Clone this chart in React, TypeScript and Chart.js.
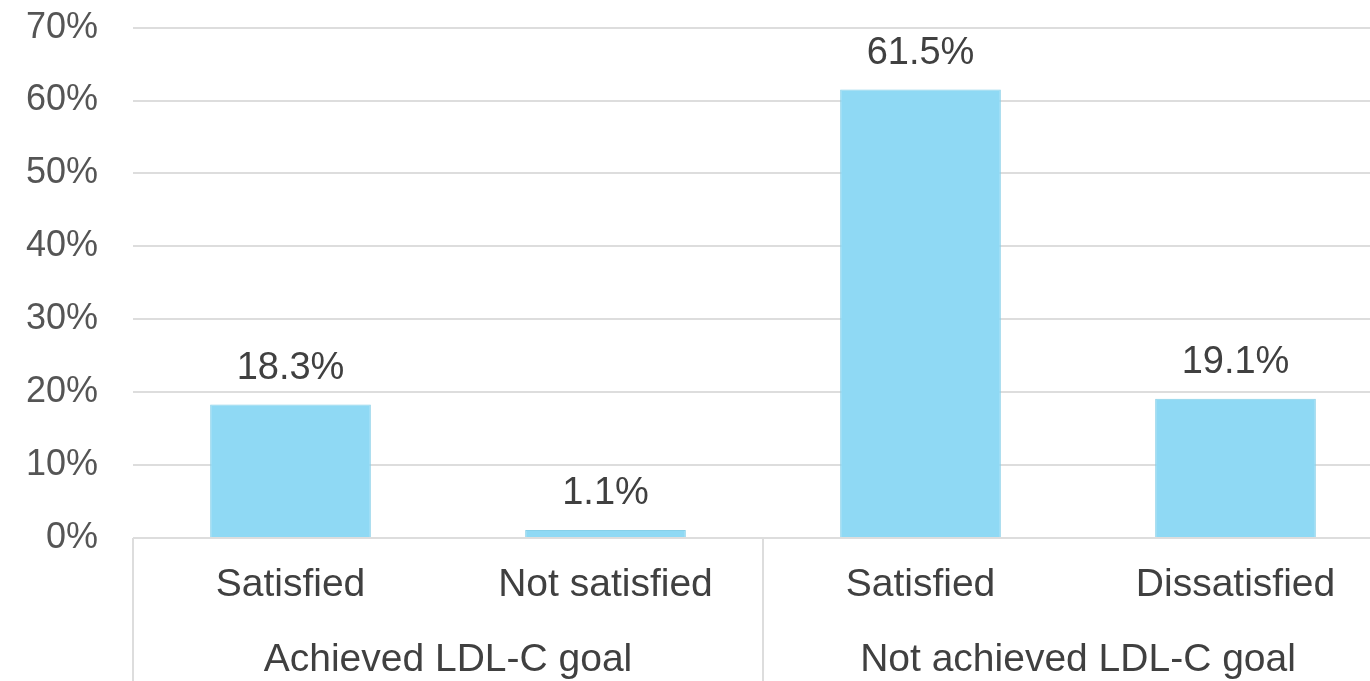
import React, { useEffect, useRef } from "react";
import { Chart, registerables } from "chart.js";

Chart.register(...registerables);

const categories = ["Satisfied", "Not satisfied", "Satisfied", "Dissatisfied"];
const groupLabels = ["Achieved LDL-C goal", "Not achieved LDL-C goal"];
const groupSpans = [[0, 1], [2, 3]];
const values = [18.3, 1.1, 61.5, 19.1];
const yTicks = [0, 10, 20, 30, 40, 50, 60, 70];

const FONT = '"Liberation Sans", Arial, Helvetica, sans-serif';
const TEXT = "#404040";
const GRID = "#dddddd";

const decorPlugin = {
  id: "decor",
  afterDatasetsDraw(chart: any) {
    const ctx = chart.ctx;
    const x = chart.scales.x;
    const area = chart.chartArea;
    const meta = chart.getDatasetMeta(0);
    ctx.save();
    ctx.font = `38px ${FONT}`;
    ctx.fillStyle = TEXT;
    ctx.textAlign = "center";
    ctx.textBaseline = "middle";
    meta.data.forEach((bar: any, i: number) => {
      ctx.fillText(values[i].toFixed(1) + "%", bar.x, bar.y - 36);
    });
    const step = x.getPixelForValue(1) - x.getPixelForValue(0);
    const bounds: number[] = [];
    groupSpans.forEach((s, gi) => {
      if (gi === 0) bounds.push(x.getPixelForValue(s[0]) - step / 2);
      bounds.push(x.getPixelForValue(s[1]) + step / 2);
    });
    ctx.strokeStyle = GRID;
    ctx.lineWidth = 2;
    bounds.forEach((bx) => {
      ctx.beginPath();
      ctx.moveTo(bx, area.bottom);
      ctx.lineTo(bx, chart.height);
      ctx.stroke();
    });
    ctx.font = `39px ${FONT}`;
    ctx.fillStyle = TEXT;
    groupSpans.forEach((s, gi) => {
      const cx = (x.getPixelForValue(s[0]) + x.getPixelForValue(s[1])) / 2;
      ctx.fillText(groupLabels[gi], cx, chart.height - 21);
    });
    ctx.restore();
  },
};

export default function App() {
  const ref = useRef<HTMLCanvasElement>(null);
  useEffect(() => {
    if (!ref.current) return;
    const chart = new Chart(ref.current, {
      type: "bar",
      data: {
        labels: categories,
        datasets: [
          {
            data: values,
            backgroundColor: "#8fd9f4",
            borderColor: "#86cfe8",
            borderWidth: 1,
            barPercentage: 0.85,
            categoryPercentage: 0.6,
          },
        ],
      },
      options: {
        animation: false,
        responsive: false,
        layout: { padding: { top: 0, right: 7, left: 0, bottom: 0 } },
        plugins: { legend: { display: false }, tooltip: { enabled: false }, title: { display: false } },
        scales: {
          x: {
            grid: { display: false, drawTicks: false },
            border: { display: false },
            ticks: {
              font: { family: FONT, size: 39 },
              color: TEXT,
              padding: 24,
              maxRotation: 0,
              autoSkip: false,
            },
            afterFit(scale: any) {
              scale.height = 143;
            },
          },
          y: {
            min: 0,
            max: 70,
            afterBuildTicks(scale: any) {
              scale.ticks = yTicks.map((v) => ({ value: v }));
            },
            grid: { color: GRID, lineWidth: 2, drawTicks: false },
            border: { display: false },
            ticks: {
              font: { family: FONT, size: 36 },
              color: "#555555",
              padding: 35,
              callback: (v: any) => v + "%",
            },
            afterFit(scale: any) {
              scale.width = 133;
            },
          },
        },
      },
      plugins: [decorPlugin],
    });
    return () => chart.destroy();
  }, []);
  return (
    <div style={{ position: "fixed", left: 0, top: 0, width: 1370, height: 681, overflow: "hidden", background: "#fff" }}>
      <canvas
        ref={ref}
        width={1400}
        height={710}
        style={{ width: 1400, height: 710, display: "block", marginTop: -29 }}
      />
    </div>
  );
}
